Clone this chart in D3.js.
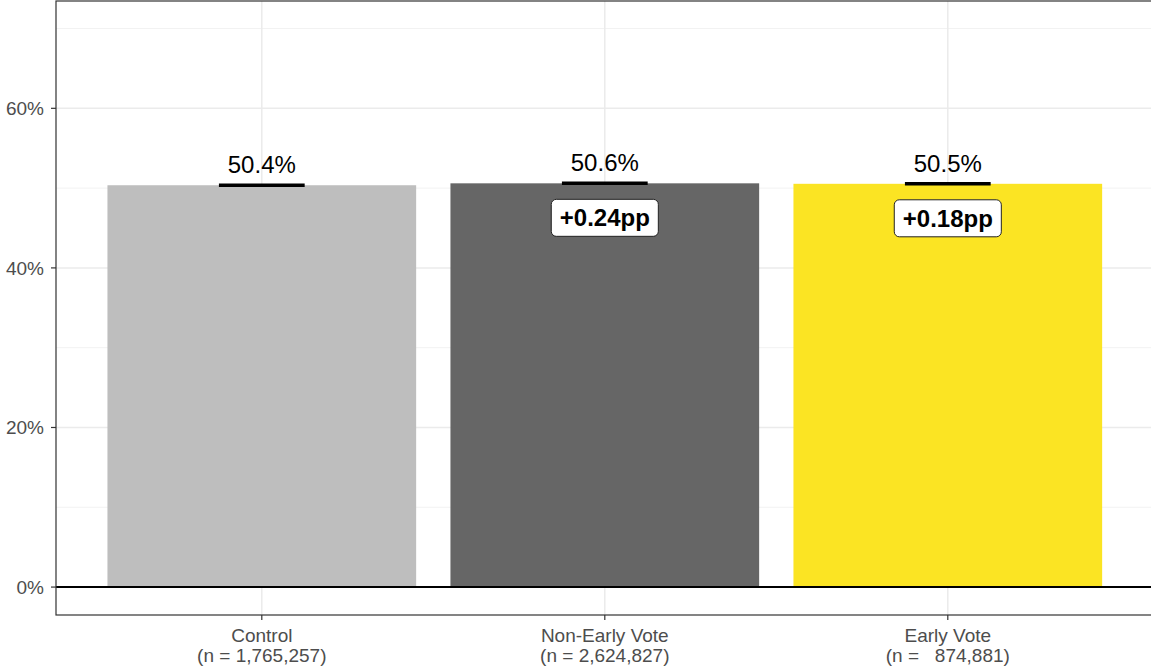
<!DOCTYPE html>
<html>
<head>
<meta charset="utf-8">
<script src="https://cdn.jsdelivr.net/npm/d3@7"></script>
<style>
  html, body { margin: 0; padding: 0; background: #fff; }
  svg { display: block; font-family: "Liberation Sans", Arial, Helvetica, sans-serif; }
</style>
</head>
<body>
<svg id="chart" width="1151" height="671"></svg>
<script>
// ---- data ----
const categories = ["Control", "Non-Early Vote", "Early Vote"];
const sampleLabels = ["(n = 1,765,257)", "(n = 2,624,827)", "(n =   874,881)"];
const values = [0.5036, 0.5060, 0.5054];
const valueLabels = ["50.4%", "50.6%", "50.5%"];
const diffLabels = [null, "+0.24pp", "+0.18pp"];
const barColors = ["#BEBEBE", "#666666", "#FBE423"];
const majorTicks = [0, 0.2, 0.4, 0.6];
const minorTicks = [0.1, 0.3, 0.5, 0.7];

// ---- layout ----
const svg = d3.select("#chart");
const panel = { left: 56, top: 1, bottom: 615, right: 1153.6 };

const x = d3.scalePoint().domain(categories).range([panel.left, panel.right]).padding(0.6);
const step = x.step();
const barW = step * 0.9;
const errW = step * 0.25;
const y = d3.scaleLinear().domain([-0.035, 0.7345]).range([panel.bottom, panel.top]);

const g = svg.append("g");

// grid
g.selectAll("line.minor").data(minorTicks).join("line")
  .attr("x1", panel.left).attr("x2", panel.right)
  .attr("y1", d => y(d)).attr("y2", d => y(d))
  .attr("stroke", "#F2F2F2").attr("stroke-width", 1);
g.selectAll("line.major").data(majorTicks).join("line")
  .attr("x1", panel.left).attr("x2", panel.right)
  .attr("y1", d => y(d)).attr("y2", d => y(d))
  .attr("stroke", "#EBEBEB").attr("stroke-width", 1.5);
g.selectAll("line.vmajor").data(categories).join("line")
  .attr("x1", d => x(d)).attr("x2", d => x(d))
  .attr("y1", panel.top).attr("y2", panel.bottom)
  .attr("stroke", "#EBEBEB").attr("stroke-width", 1.5);

// bars
g.selectAll("rect.bar").data(categories).join("rect")
  .attr("x", d => x(d) - barW / 2)
  .attr("width", barW)
  .attr("y", (d, i) => y(values[i]))
  .attr("height", (d, i) => y(0) - y(values[i]))
  .attr("fill", (d, i) => barColors[i]);

// zero line
g.append("line")
  .attr("x1", panel.left).attr("x2", panel.right)
  .attr("y1", y(0)).attr("y2", y(0))
  .attr("stroke", "#000").attr("stroke-width", 2);

// error bars (tiny CI -> look like a single thick line)
g.selectAll("line.err").data(categories).join("line")
  .attr("x1", d => x(d) - errW / 2).attr("x2", d => x(d) + errW / 2)
  .attr("y1", (d, i) => y(values[i])).attr("y2", (d, i) => y(values[i]))
  .attr("stroke", "#000").attr("stroke-width", 3.5);

// value labels
g.selectAll("text.val").data(categories).join("text")
  .attr("x", d => x(d))
  .attr("y", (d, i) => y(values[i]) - 12)
  .attr("text-anchor", "middle")
  .attr("font-size", 24)
  .attr("fill", "#000")
  .text((d, i) => valueLabels[i]);

// diff labels (boxed)
categories.forEach((c, i) => {
  if (!diffLabels[i]) return;
  const top = y(values[i]);
  const lg = g.append("g");
  const t = lg.append("text")
    .attr("x", x(c))
    .attr("y", top + 43)
    .attr("text-anchor", "middle")
    .attr("font-size", 24)
    .attr("font-weight", "bold")
    .attr("fill", "#000")
    .text(diffLabels[i]);
  const bb = t.node().getBBox();
  lg.insert("rect", "text")
    .attr("x", x(c) - bb.width / 2 - 8.5)
    .attr("width", bb.width + 17)
    .attr("y", top + 16)
    .attr("height", 37)
    .attr("rx", 5).attr("ry", 5)
    .attr("fill", "#fff")
    .attr("stroke", "#222")
    .attr("stroke-width", 1);
});

// panel border
g.append("rect")
  .attr("x", panel.left).attr("y", panel.top)
  .attr("width", panel.right - panel.left).attr("height", panel.bottom - panel.top)
  .attr("fill", "none").attr("stroke", "#333333").attr("stroke-width", 1.2);

// y axis ticks + labels
g.selectAll("line.ytick").data(majorTicks).join("line")
  .attr("x1", panel.left - 5).attr("x2", panel.left)
  .attr("y1", d => y(d)).attr("y2", d => y(d))
  .attr("stroke", "#333333").attr("stroke-width", 1.2);
g.selectAll("text.ylab").data(majorTicks).join("text")
  .attr("x", panel.left - 12)
  .attr("y", d => y(d))
  .attr("dy", "0.35em")
  .attr("text-anchor", "end")
  .attr("font-size", 19)
  .attr("fill", "#4D4D4D")
  .text(d => d3.format(".0%")(d));

// x axis ticks + labels
g.selectAll("line.xtick").data(categories).join("line")
  .attr("x1", d => x(d)).attr("x2", d => x(d))
  .attr("y1", panel.bottom).attr("y2", panel.bottom + 5)
  .attr("stroke", "#333333").attr("stroke-width", 1.2);
categories.forEach((c, i) => {
  const t = g.append("text")
    .attr("x", x(c)).attr("y", 642)
    .attr("text-anchor", "middle")
    .attr("font-size", 19)
    .attr("fill", "#4D4D4D")
    .attr("xml:space", "preserve")
    .style("white-space", "pre");
  t.append("tspan").attr("x", x(c)).attr("y", 642).text(c);
  t.append("tspan").attr("x", x(c)).attr("y", 662).text(sampleLabels[i]);
});
</script>
</body>
</html>
